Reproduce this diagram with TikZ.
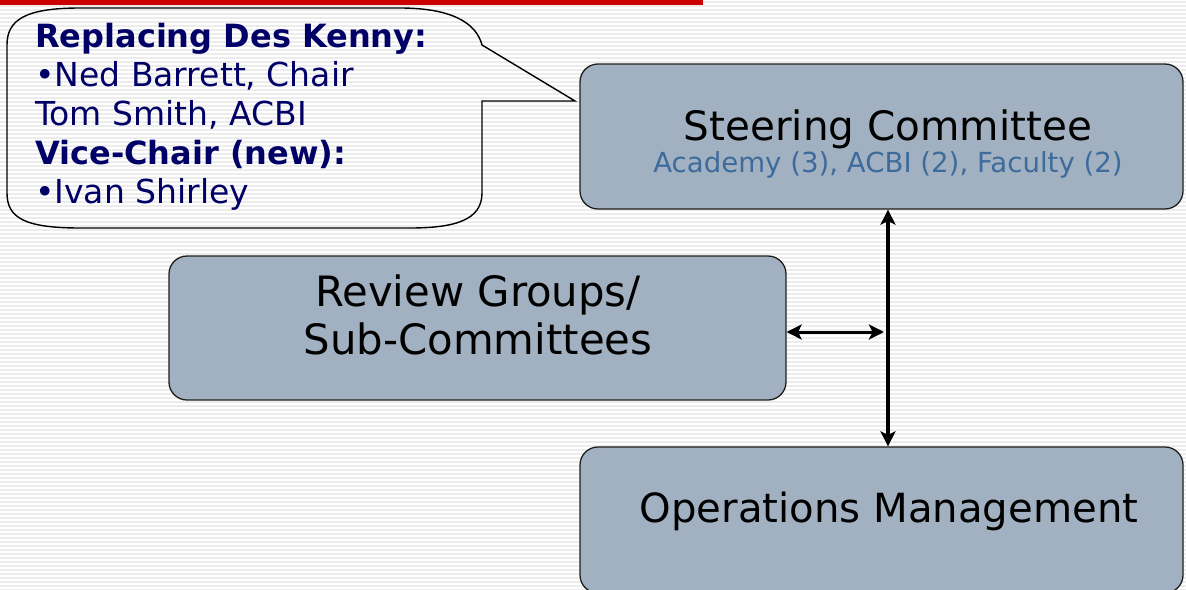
\documentclass[tikz,border=0pt]{standalone}
\usepackage{fontspec}
\setmainfont{DejaVu Sans}
\usetikzlibrary{arrows.meta}
\definecolor{boxfill}{RGB}{162,177,193}
\definecolor{boxline}{RGB}{30,30,30}
\definecolor{navy}{RGB}{0,0,102}
\definecolor{subblue}{RGB}{61,107,155}
\definecolor{slidered}{RGB}{204,0,0}
\definecolor{stripe}{RGB}{236,236,236}
\tikzset{
  box/.style={draw=boxline, line width=1.3pt, fill=boxfill, rounded corners=18pt, inner sep=0pt},
  bigtxt/.style={font=\fontsize{40.5}{48}\selectfont, text=black, inner sep=0pt},
  subtxt/.style={font=\fontsize{27.6}{30}\selectfont, text=subblue, inner sep=0pt},
  calltxt/.style={font=\fontsize{33}{39}\selectfont, text=navy, inner sep=0pt, anchor=base west},
  callbold/.style={calltxt, font=\fontsize{32}{39}\selectfont\bfseries},
  link/.style={line width=3.5pt, {Stealth[length=15pt,width=15pt,inset=3.5pt]}-{Stealth[length=15pt,width=15pt,inset=3.5pt]}},
  callline/.style={draw=black, line width=1.4pt}
}
\begin{document}
\begin{tikzpicture}[x=1pt,y=-1pt]
\useasboundingbox (0,0) rectangle (1186,589);
\clip (0,0) rectangle (1186,589);
\fill[white] (0,0) rectangle (1186,589);
\foreach \i in {1,5,...,589} \fill[stripe] (0,\i) rectangle (1186,\i+2);
\fill[slidered] (0,0) rectangle (703,5);

% callout
\draw[callline] (575,101) -- (482,101) -- (482,193)
  .. controls (482,220) and (455,228) .. (410,228) -- (80,228)
  .. controls (25,228) and (7,218) .. (7,193) -- (7,45)
  .. controls (7,20) and (25,8) .. (80,8) -- (400,8)
  .. controls (450,8) and (476,22) .. (482,45) -- cycle;
\node[callbold] (c1) at (35,47) {Replacing Des Kenny:};
\node[calltxt] (c2) at (35,86) {•Ned Barrett, Chair};
\node[calltxt] (c3) at (35,125) {Tom Smith, ACBI};
\node[callbold] (c4) at (35,164) {Vice-Chair (new):};
\node[calltxt] (c5) at (35,203) {•Ivan Shirley};

% boxes
\node[box, minimum width=603pt, minimum height=145pt] (st) at (881.5,136.5) {};
\node[bigtxt, anchor=base] (stt) at (888,140) {Steering Committee};
\node[subtxt, anchor=base] (sts) at (888,172) {Academy (3), ACBI (2), Faculty (2)};

\node[box, minimum width=617pt, minimum height=144pt] (rv) at (477.5,328) {};
\node[bigtxt, font=\fontsize{41.8}{48}\selectfont, anchor=base] (rv1) at (478,306) {Review Groups/};
\node[bigtxt, font=\fontsize{41.8}{48}\selectfont, anchor=base] (rv2) at (478,354) {Sub-Committees};

\node[box, minimum width=603pt, minimum height=146pt] (op) at (881.5,520) {};
\node[bigtxt, font=\fontsize{40.2}{48}\selectfont, anchor=base] (opt) at (889,522) {Operations Management};

% connectors
\coordinate (j) at (888,332);
\draw[link] (st.south -| j) -- (op.north -| j);
\draw[link, line width=3pt, shorten >=4pt] (rv.east |- j) -- (j);
\end{tikzpicture}
\end{document}
